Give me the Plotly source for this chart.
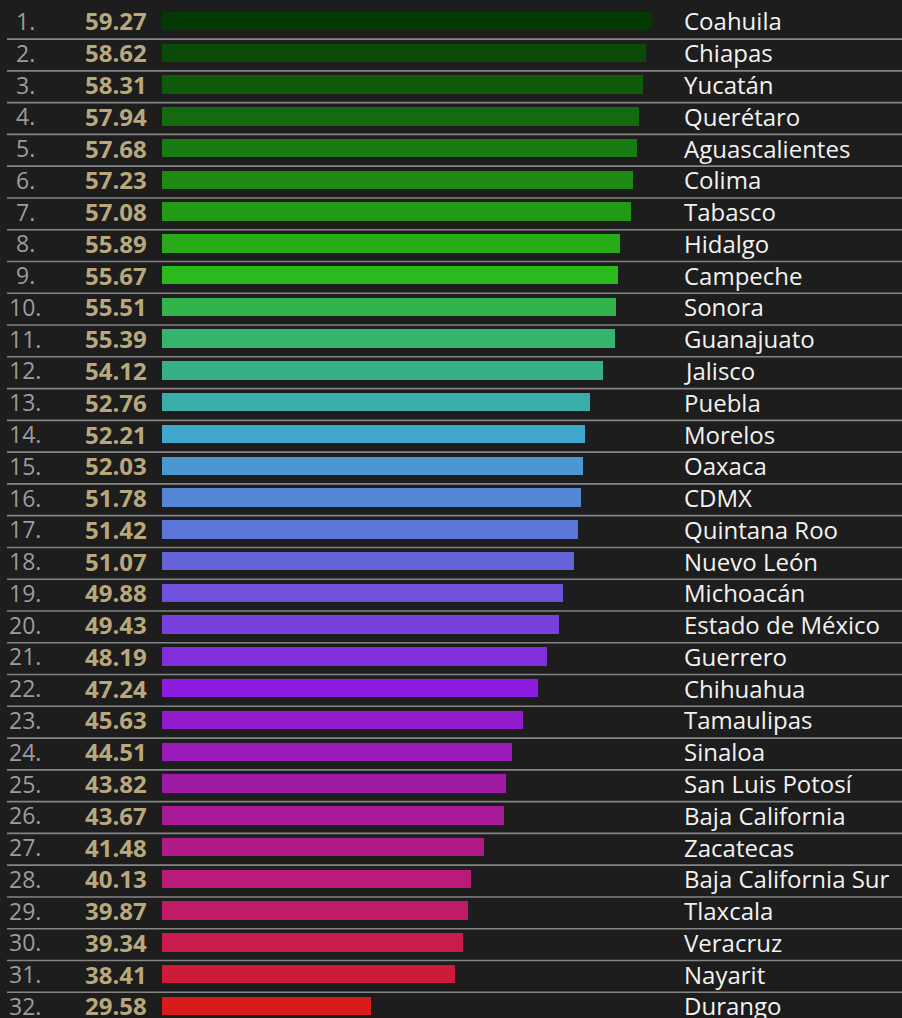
import plotly.graph_objects as go

ranks = list(range(1, 33))
values = [59.27, 58.62, 58.31, 57.94, 57.68, 57.23, 57.08, 55.89, 55.67, 55.51,
          55.39, 54.12, 52.76, 52.21, 52.03, 51.78, 51.42, 51.07, 49.88, 49.43,
          48.19, 47.24, 45.63, 44.51, 43.82, 43.67, 41.48, 40.13, 39.87, 39.34,
          38.41, 29.58]
states = ["Coahuila", "Chiapas", "Yucatán", "Querétaro", "Aguascalientes", "Colima",
          "Tabasco", "Hidalgo", "Campeche", "Sonora", "Guanajuato", "Jalisco",
          "Puebla", "Morelos", "Oaxaca", "CDMX", "Quintana Roo", "Nuevo León",
          "Michoacán", "Estado de México", "Guerrero", "Chihuahua", "Tamaulipas",
          "Sinaloa", "San Luis Potosí", "Baja California", "Zacatecas",
          "Baja California Sur", "Tlaxcala", "Veracruz", "Nayarit", "Durango"]
colors = ["#023a02", "#0a4a06", "#0f5a0a", "#146a0e", "#197a12", "#1e8a14",
          "#229a16", "#27ab18", "#2bba1c", "#33b34c", "#36b36c", "#38b086",
          "#3aaeaa", "#3fa6cc", "#4a97d2", "#5387d6", "#5b75d8", "#6463da",
          "#6e51dc", "#7840dc", "#822edc", "#8c1ce0", "#921bcc", "#9a1bb8",
          "#a01aa8", "#a81a98", "#b01b88", "#b81b78", "#c01b66", "#c81b50",
          "#cf1b3a", "#d81b1b"]

BG = "#1d1d1d"
W, H = 902, 1018
L = 162
x_lo = 7.5
px_per_unit = 9.464
x_hi = x_lo + (W - L) / px_per_unit

fig = go.Figure()
fig.add_trace(go.Bar(
    x=values, y=ranks, orientation="h",
    marker=dict(color=colors, line=dict(width=0)),
    width=0.58, hoverinfo="skip",
))

plot_w = W - L
def px(xpix):
    return (xpix - L) / plot_w

annotations = []
for r, v, s in zip(ranks, values, states):
    annotations.append(dict(x=px(25), y=r, xref="paper", yref="y", text=f"{r}.",
                            showarrow=False, xanchor="center", yanchor="middle",
                            font=dict(family="Open Sans", size=23, color="#9c9c9c")))
    annotations.append(dict(x=px(149), y=r, xref="paper", yref="y", text=f"<b>{v:.2f}</b>",
                            showarrow=False, xanchor="right", yanchor="middle",
                            font=dict(family="Open Sans", size=24, color="#b8a87c")))
    annotations.append(dict(x=px(682), y=r, xref="paper", yref="y", text=s,
                            showarrow=False, xanchor="left", yanchor="middle",
                            font=dict(family="Open Sans", size=24, color="#f2f2f2")))

shapes = []
for r in ranks[:-1]:
    shapes.append(dict(type="line", xref="paper", yref="y",
                       x0=px(7), x1=1, y0=r + 0.57, y1=r + 0.57,
                       line=dict(color="#858585", width=1.6), layer="below"))

fig.update_layout(
    width=W, height=H,
    margin=dict(l=L, r=0, t=0, b=0),
    paper_bgcolor=BG, plot_bgcolor=BG,
    showlegend=False,
    xaxis=dict(range=[x_lo, x_hi], visible=False, fixedrange=True),
    yaxis=dict(range=[32.38, 0.34], visible=False, fixedrange=True),
    annotations=annotations,
    shapes=shapes,
    bargap=0,
)

fig.write_html("out.html", config={"displayModeBar": False},
               post_script="document.body.style.margin='0';document.body.style.padding='0';"
                           "document.body.style.background='%s';" % BG)
